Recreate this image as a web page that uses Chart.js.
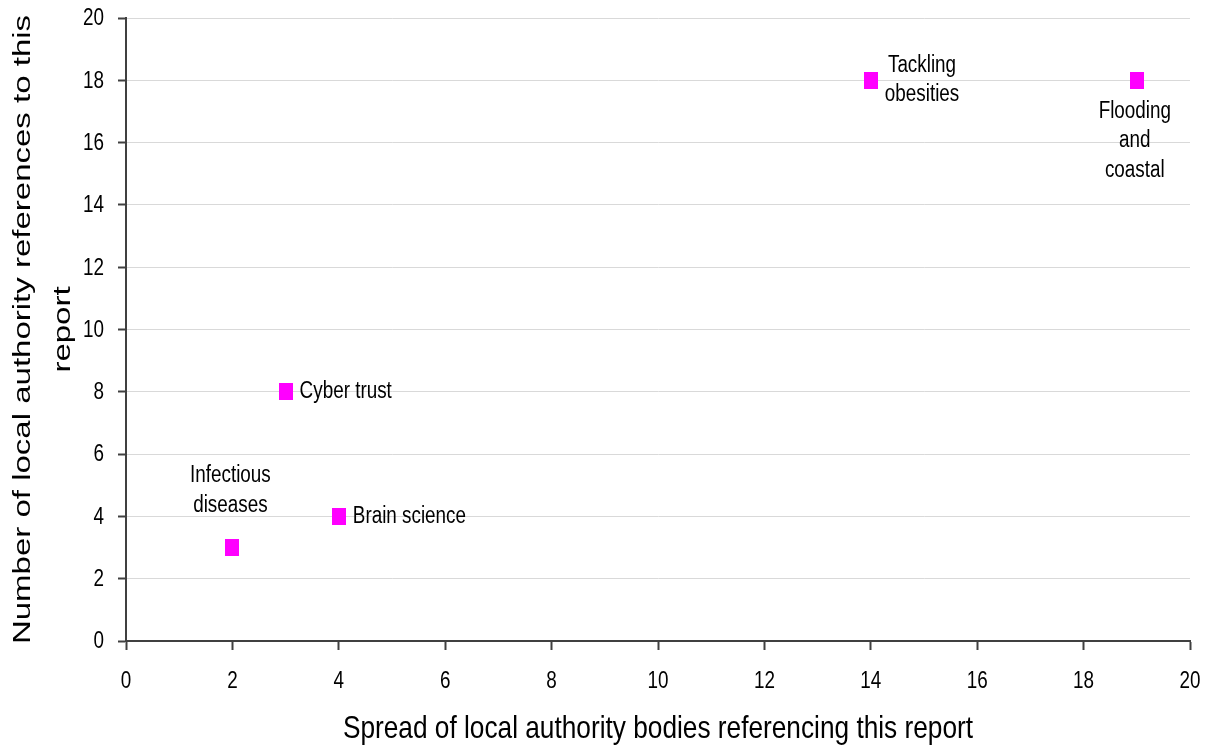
<!DOCTYPE html>
<html>
<head>
<meta charset="utf-8">
<title>Local authority references by report</title>
<script src="https://cdn.jsdelivr.net/npm/chart.js@4.4.1/dist/chart.umd.min.js"></script>
<style>
  html, body { margin: 0; padding: 0; background: #ffffff; }
  #chart { display: block; }
</style>
</head>
<body>
<canvas id="chart" width="1209" height="747"></canvas>
<script>
// Reports and their reference counts
const reports = ['Infectious diseases', 'Cyber trust', 'Brain science', 'Tackling obesities', 'Flooding and coastal'];
const spreadOfBodies = [2, 3, 4, 14, 19];
const referenceCounts = [3, 8, 4, 18, 18];
const reportLabelLines = [['Infectious', 'diseases'], ['Cyber trust'], ['Brain science'], ['Tackling', 'obesities'], ['Flooding', 'and', 'coastal']];
const labelSide = ['above', 'right', 'right', 'right', 'below'];
const axisMin = 0;
const axisMax = 20;
const axisStep = 2;

const xTitle = 'Spread of local authority bodies referencing this report';
const yTitleLines = ['Number of local authority references to this', 'report'];

const FONT = '"Liberation Sans", Arial, sans-serif';
const SQUEEZE = 0.82;          // condensed lettering
const INK = '#000000';
const AXIS = '#404040';

// Slightly tall magenta marker
const marker = document.createElement('canvas');
marker.width = 14;
marker.height = 17;
(function () {
  const m = marker.getContext('2d');
  m.fillStyle = '#ff00ff';
  m.fillRect(0, 0, 14, 17);
})();

const CHART_LEFT = 126, CHART_RIGHT = 1190, CHART_TOP = 18, CHART_BOTTOM = 641;

// Draw text horizontally condensed around its anchor
function condensedText(c, text, x, y, align) {
  c.save();
  c.translate(x, y);
  c.scale(SQUEEZE, 1);
  c.textAlign = align;
  c.fillText(text, 0, 0);
  c.restore();
}

const whiteBackground = {
  id: 'whiteBackground',
  beforeDraw(chart) {
    const c = chart.ctx;
    c.save();
    c.fillStyle = '#ffffff';
    c.fillRect(0, 0, chart.width, chart.height);
    c.restore();
  }
};

// Tick numbers for both axes
const tickNumbers = {
  id: 'tickNumbers',
  afterDraw(chart) {
    const c = chart.ctx;
    const xs = chart.scales.x, ys = chart.scales.y;
    c.save();
    c.fillStyle = INK;
    c.font = '23px ' + FONT;
    c.textBaseline = 'middle';
    xs.ticks.forEach(t => condensedText(c, String(t.value), xs.getPixelForValue(t.value), 682, 'center'));
    ys.ticks.forEach(t => condensedText(c, String(t.value), 104, ys.getPixelForValue(t.value) + 1, 'right'));
    c.restore();
  }
};

const pointLabels = {
  id: 'pointLabels',
  afterDatasetsDraw(chart) {
    const c = chart.ctx;
    const meta = chart.getDatasetMeta(0);
    c.save();
    c.font = '23px ' + FONT;
    c.fillStyle = INK;
    c.textBaseline = 'middle';
    meta.data.forEach((pt, i) => {
      const lines = reportLabelLines[i];
      const side = labelSide[i];
      const lh = 29.5;
      if (side === 'right') {
        const w = Math.max(...lines.map(l => c.measureText(l).width)) * SQUEEZE;
        const cx = pt.x + 14 + w / 2;
        const y0 = pt.y - (lines.length - 1) * lh / 2;
        lines.forEach((l, k) => condensedText(c, l, cx, y0 + k * lh, 'center'));
      } else if (side === 'above') {
        const yLast = pt.y - 42;
        lines.forEach((l, k) => condensedText(c, l, pt.x - 2, yLast - (lines.length - 1 - k) * lh, 'center'));
      } else {
        const yFirst = pt.y + 31;
        lines.forEach((l, k) => condensedText(c, l, pt.x - 2, yFirst + k * lh, 'center'));
      }
    });
    c.restore();
  }
};

const axisTitles = {
  id: 'axisTitles',
  afterDraw(chart) {
    const c = chart.ctx;
    const area = chart.chartArea;
    c.save();
    c.fillStyle = INK;
    // horizontal axis title
    c.font = '32px ' + FONT;
    c.textBaseline = 'alphabetic';
    condensedText(c, xTitle, (area.left + area.right) / 2, 738, 'center');
    // vertical axis title, two rotated lines
    const cy = (area.top + area.bottom) / 2;
    c.font = '33px ' + FONT;
    c.textAlign = 'center';
    const baselines = [30, 70];
    yTitleLines.forEach((line, k) => {
      c.save();
      c.translate(baselines[k], cy);
      c.scale(0.7, 1);
      c.rotate(-Math.PI / 2);
      c.fillText(line, 0, 0);
      c.restore();
    });
    c.restore();
  }
};

new Chart(document.getElementById('chart'), {
  type: 'scatter',
  data: {
    datasets: [{
      label: 'Reports',
      data: spreadOfBodies.map((x, i) => ({ x: x, y: referenceCounts[i] })),
      pointStyle: marker,
      pointRadius: 8,
      pointHoverRadius: 8,
      backgroundColor: '#ff00ff',
      borderColor: '#ff00ff'
    }]
  },
  plugins: [whiteBackground, pointLabels, tickNumbers, axisTitles],
  options: {
    responsive: false,
    animation: false,
    events: [],
    layout: { padding: { left: 0, top: CHART_TOP, right: 1209 - CHART_RIGHT, bottom: 0 } },
    plugins: {
      legend: { display: false },
      tooltip: { enabled: false }
    },
    scales: {
      x: {
        type: 'linear',
        min: axisMin,
        max: axisMax,
        ticks: { stepSize: axisStep, display: false },
        grid: {
          drawOnChartArea: false,
          drawTicks: true,
          tickLength: 9,
          tickColor: AXIS,
          tickWidth: 2
        },
        border: { display: true, color: AXIS, width: 2 },
        afterFit(scale) { scale.height = 747 - CHART_BOTTOM; }
      },
      y: {
        type: 'linear',
        min: axisMin,
        max: axisMax,
        ticks: { stepSize: axisStep, display: false },
        grid: {
          color: '#d9d9d9',
          lineWidth: 1,
          drawTicks: true,
          tickLength: 8,
          tickColor: AXIS,
          tickWidth: 2
        },
        border: { display: true, color: AXIS, width: 2 },
        afterFit(scale) { scale.width = CHART_LEFT; }
      }
    }
  }
});
</script>
</body>
</html>
